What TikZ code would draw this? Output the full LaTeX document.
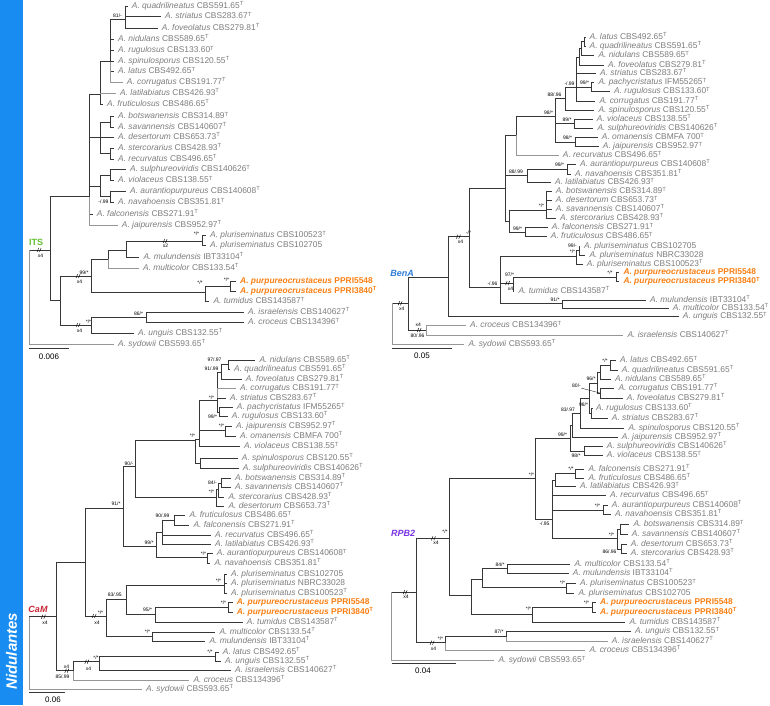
\documentclass[tikz,border=0pt]{standalone}
\usepackage{fontspec}
\setmainfont{Liberation Sans}
\definecolor{barblue}{RGB}{24,140,240}
\definecolor{brc}{RGB}{55,55,55}
\definecolor{gbc}{RGB}{150,150,150}
\definecolor{txg}{RGB}{125,125,125}
\definecolor{orng}{RGB}{250,128,20}
\definecolor{itsc}{RGB}{100,190,50}
\definecolor{benc}{RGB}{45,125,215}
\definecolor{camc}{RGB}{200,40,55}
\definecolor{rpbc}{RGB}{120,50,230}
\tikzset{
 br/.style={draw=brc, line width=0.65pt},
 gb/.style={draw=gbc, line width=0.65pt},
 lf/.style={anchor=west, inner xsep=4pt, inner ysep=0pt, text height=6pt, text depth=1.6pt, text=txg, font=\fontsize{8.4}{9}\selectfont},
 ol/.style={lf, text=orng, font=\fontsize{8.4}{9}\selectfont\bfseries},
 sv/.style={inner sep=0pt, font=\fontsize{5}{6}\selectfont, text=black},
 brk/.style={draw=black, line width=0.45pt},
 gl/.style={inner sep=0pt, font=\fontsize{9}{10}\selectfont\bfseries\itshape},
 scl/.style={inner sep=0pt, font=\fontsize{8}{9}\selectfont, text=black},
 ld/.style={draw=black, line width=0.3pt},
}
\newcommand\Nd[4][br]{\coordinate (#3) at (#4);\draw[#1] (#2) |- (#3);}
\newcommand\Lf[5][br]{\node[lf] (#3) at (#4) {#5};\draw[#1] (#2) |- (#3.west);}
\newcommand\Lo[4]{\node[ol] (#2) at (#3) {#4};\draw[br] (#1) |- (#2.west);}
\newcounter{svc}
\newcommand\Sv[2]{\stepcounter{svc}\node[sv] (sv\arabic{svc}) at (#1) {#2};}
\newcommand\Bk[1]{\draw[brk,shift={(#1)}] (-1.9,2) -- (-0.3,-2) (0.5,2) -- (2.1,-2);}
\newcommand\sT[2]{\textit{A.~#1} #2\textsuperscript{T}}
\newcommand\sN[2]{\textit{A.~#1} #2}
\newcommand\pA{\textit{A.~purpureocrustaceus} PPRI5548}
\newcommand\pB{\textit{A.~purpureocrustaceus} PPRI3840\textsuperscript{T}}
\begin{document}
\begin{tikzpicture}[x=1pt,y=-1pt]
\useasboundingbox (0,0) rectangle (770,705);
\fill[white] (0,0) rectangle (770,705);
\fill[barblue] (0,0) rectangle (23,705);
\node[rotate=90, text=white, inner sep=0pt, font=\fontsize{15}{15}\selectfont\bfseries\itshape] (nid) at (11.5,651) {Nidulantes};

% ================= ITS =================
\coordinate (I0) at (29.3,250);
\Nd{I0}{IR}{50,250}
\Lf[gb]{I0}{Isyd}{114,344.5}{\sT{sydowii}{CBS593.65}}
\Bk{39,250} \Sv{40.5,255.5}{x4}
\node[gl, font=\fontsize{9}{10}\selectfont\bfseries, text=itsc] (ITS) at (36,242) {ITS};
\Nd{IR}{In0}{89,196.7}
\Nd{IR}{Inl}{60.7,300}
\Nd{In0}{In1}{100,94}
\Nd{In0}{Im1}{100,137}
\Nd{In0}{Im2}{100,186.7}
\Lf{In0}{Ifal}{92.7,214}{\sT{falconensis}{CBS271.91}}
\Lf[gb]{In0}{Ijai}{117.7,225}{\sT{jaipurensis}{CBS952.97}}
\Nd{In1}{In2}{110.7,61.7}
\Lf[gb]{In1}{Ilab}{116,93.3}{\sT{latilabiatus}{CBS426.93}}
\Lf{In1}{Ifru}{103,104.3}{\sT{fruticulosus}{CBS486.65}}
\Nd{In2}{In3}{125,19}
\Lf{In2}{Inid}{114,39}{\sT{nidulans}{CBS589.65}}
\Lf{In2}{Irug}{114,50.7}{\sT{rugulosus}{CBS133.60}}
\Lf{In2}{Ispi}{114,61.3}{\sT{spinulosporus}{CBS120.55}}
\Lf{In2}{Ilat}{114,71.7}{\sT{latus}{CBS492.65}}
\Lf[gb]{In2}{Icor}{122.7,82.3}{\sT{corrugatus}{CBS191.77}}
\Lf{In3}{Iqua}{127.7,6}{\sT{quadrilineatus}{CBS591.65}}
\Lf{In3}{Istr}{161,16.7}{\sT{striatus}{CBS283.67}}
\Lf{In3}{Ifov}{157.7,28.5}{\sT{foveolatus}{CBS279.81}}
\Sv{117.5,15.5}{81/-}
\Nd{Im1}{Im1a}{110.7,122}
\Lf{Im1}{Ides}{114,137.5}{\sT{desertorum}{CBS653.73}}
\Nd{Im1}{Im1b}{110.7,153.5}
\Lf{Im1a}{Ibot}{114,116.7}{\sT{botswanensis}{CBS314.89}}
\Lf{Im1a}{Isav}{114,127.3}{\sT{savannensis}{CBS140607}}
\Lf{Im1b}{Iste}{114,148.3}{\sT{stercorarius}{CBS428.93}}
\Lf{Im1b}{Irec}{114,159}{\sT{recurvatus}{CBS496.65}}
\Nd{Im2}{Im2a}{110.7,175}
\Nd{Im2}{Im2b}{110.7,196.8}
\Lf{Im2a}{Isul}{126,169.7}{\sT{sulphureoviridis}{CBS140626}}
\Lf{Im2a}{Ivio}{114,180.7}{\sT{violaceus}{CBS138.55}}
\Lf{Im2b}{Iaur}{126,191}{\sT{aurantiopurpureus}{CBS140608}}
\Lf{Im2b}{Inav}{114,202.7}{\sT{navahoensis}{CBS351.81}}
\Sv{103.5,201.5}{-/.99}
\Nd{Inl}{IA}{91.7,276}
\Nd{Inl}{ID}{91.7,325}
\Sv{84,272.5}{99/*} \Bk{78,276} \Sv{79.5,281.5}{x4}
\Sv{88.5,321.5}{*/*} \Bk{78,325} \Sv{79.5,330.5}{x4}
\Nd{IA}{IB}{108.3,259}
\Nd{IA}{IE}{205,292.7}
\Nd{IB}{IC}{126,250}
\Lf[gb]{IB}{Imuc}{139,268}{\sT{multicolor}{CBS133.54}}
\Nd{IC}{IP}{202.7,241}
\Lf{IC}{Imul}{139.3,257}{\sT{mulundensis}{IBT33104}}
\Lf{IP}{Ipl1}{206,235.7}{\sT{pluriseminatus}{CBS100523}}
\Lf{IP}{Ipl2}{206,245.3}{\sN{pluriseminatus}{CBS102705}}
\Sv{196.5,233.5}{*/*} \Bk{165,241} \Sv{165.5,246}{x2}
\Nd{IE}{IQ}{230,286}
\Lf{IE}{Itum}{209.3,301.7}{\sT{tumidus}{CBS143587}}
\Sv{200,283}{*/*}
\Lo{IQ}{Ipu1}{236,281}{\pA}
\Lo{IQ}{Ipu2}{236,291.3}{\pB}
\Sv{226.5,279.5}{*/*}
\Nd{ID}{IG}{146,317.7}
\Lf{ID}{Iung}{134,333}{\sT{unguis}{CBS132.55}}
\Lf{IG}{Iisr}{244,312.3}{\sT{israelensis}{CBS140627}}
\Lf{IG}{Icro}{244,322.7}{\sT{croceus}{CBS134396}}
\Sv{138.5,314}{86/*}
\coordinate (Is1) at (29.3,348.5); \coordinate (Is2) at (69.3,348.5);
\draw[br] (Is1) -- (Is2);
\node[scl] (Isl) at (49,356.5) {0.006};

% ================= BenA =================
\coordinate (B0) at (392.7,303.3);
\Nd{B0}{BR}{408.3,303.3}
\Lf[gb]{B0}{Bsyd}{464.3,344.3}{\sT{sydowii}{CBS593.65}}
\Bk{400,303.3} \Sv{401.7,308.8}{x4}
\node[gl, text=benc] (BenA) at (402,273) {BenA};
\Nd{BR}{Bd0}{448.3,277.3}
\Nd{BR}{Bk1}{426.7,330}
\Lf[gb]{Bk1}{Bcro}{466,325.7}{\sT{croceus}{CBS134396}}
\Lf[gb]{Bk1}{Bisr}{623.3,335}{\sT{israelensis}{CBS140627}}
\Sv{418.3,325}{x4} \Bk{419,330} \Sv{417.5,335.5}{80/.96}
\Nd{Bd0}{Bd1}{469,236.7}
\Lf{Bd0}{Bung}{678.7,316.7}{\sT{unguis}{CBS132.55}}
\Bk{458.3,236.7} \Sv{460.5,241.7}{x4} \Sv{468.5,232.5}{-/*}
\Nd{Bd1}{Bb11}{505,188.3}
\Nd{Bd1}{Bg1}{500.7,287}
\Nd{Bb11}{Bb10}{516.7,135}
\Nd{Bb11}{Bb12}{527.3,175}
\Nd{Bb11}{Bc3}{509.3,221.7}
\Nd{Bb10}{Bb7}{555.7,116}
\Lf[gb]{Bb10}{Brec}{558.7,155.7}{\sT{recurvatus}{CBS496.65}}
\Sv{548.5,112.5}{98/*}
\Nd{Bb7}{Bb6}{565,98}
\Nd{Bb7}{Bb8}{574,123.3}
\Nd{Bb7}{Bb9}{575,142}
\Sv{554.5,94.5}{88/.96}
\Nd{Bb6}{Bb5}{576.7,87.3}
\Lf{Bb6}{Bspi}{594.3,110}{\sT{spinulosporus}{CBS120.55}}
\Sv{569.5,84}{-/.99}
\Nd{Bb5}{Bb3}{579.3,57}
\Lf{Bb5}{Bstr}{596,73.3}{\sT{striatus}{CBS283.67}}
\Nd{Bb5}{Bb4}{591.7,87.3}
\Lf{Bb5}{Bcor}{595.3,101}{\sT{corrugatus}{CBS191.77}}
\Nd{Bb3}{Bb2}{581.5,48.6}
\Lf{Bb3}{Bfov}{604,65}{\sT{foveolatus}{CBS279.81}}
\Nd{Bb2}{Bb1}{584,41.5}
\Lf{Bb2}{Bnid}{594.3,55.7}{\sT{nidulans}{CBS589.65}}
\Lf{Bb1}{Blat}{585.5,37}{\sT{latus}{CBS492.65}}
\Lf{Bb1}{Bqua}{585.5,46}{\sT{quadrilineatus}{CBS591.65}}
\Lf{Bb4}{Bpac}{594.3,82.7}{\sT{pachycristatus}{IFM55265}}
\Lf{Bb4}{Brug}{610,91.7}{\sT{rugulosus}{CBS133.60}}
\Sv{584.5,83}{99/*}
\Lf{Bb8}{Bvio}{592.7,119.3}{\sT{violaceus}{CBS138.55}}
\Lf{Bb8}{Bsul}{593.3,128.3}{\sT{sulphureoviridis}{CBS140626}}
\Sv{567,119.5}{89/*}
\Lf{Bb9}{Boma}{597.7,137.7}{\sT{omanensis}{CBMFA 700}}
\Lf{Bb9}{Bjai}{598.7,146.7}{\sT{jaipurensis}{CBS952.97}}
\Sv{567.5,138}{98/*}
\Nd{Bb12}{Bau}{567.3,169.3}
\Lf{Bb12}{Blab}{551,182.7}{\sT{latilabiatus}{CBS426.93}}
\Sv{516,171.5}{88/.99}
\Lf{Bau}{Baur}{576,164}{\sT{aurantiopurpureus}{CBS140608}}
\Lf{Bau}{Bnav}{571,174}{\sT{navahoensis}{CBS351.81}}
\Sv{559.5,164.5}{99/*}
\Nd{Bc3}{Bc1}{546.7,210}
\Nd{Bc3}{Bc2}{525,232}
\Lf{Bc1}{Bbot}{551.7,191.7}{\sT{botswanensis}{CBS314.89}}
\Lf{Bc1}{Bdes}{551.7,200.7}{\sT{desertorum}{CBS653.73}}
\Lf{Bc1}{Bsav}{551.7,209.3}{\sT{savannensis}{CBS140607}}
\Lf{Bc1}{Bste}{556,218.3}{\sT{stercorarius}{CBS428.93}}
\Sv{541.5,205.5}{*/*}
\Lf{Bc2}{Bfal}{547.7,227.7}{\sT{falconensis}{CBS271.91}}
\Lf{Bc2}{Bfru}{546.7,236.7}{\sT{fruticulosus}{CBS486.65}}
\Sv{517.5,228.5}{99/*}
\Nd{Bg1}{Be1}{576.5,256.7}
\Nd{Bg1}{Bf1}{513,283}
\Nd{Bg1}{Bh1}{562.7,303.3}
\Sv{492.5,283.5}{-/.96}
\Nd{Be1}{Be2}{579,250.5}
\Lf{Be1}{Bpl3}{582.7,264.3}{\sT{pluriseminatus}{CBS100523}}
\Lf{Be2}{Bpl1}{580,246}{\sN{pluriseminatus}{CBS102705}}
\Lf{Be2}{Bpl2}{585.3,255}{\sN{pluriseminatus}{NBRC33028}}
\Sv{572.5,245.5}{99/-}
\Sv{572.5,252}{*/*}
\Nd{Bf1}{Bpp}{616,277.3}
\Lf{Bf1}{Btum}{514.3,291}{\sT{tumidus}{CBS143587}}
\Sv{509.5,274.5}{97/*} \Bk{507.5,283} \Sv{510.5,288.5}{x4}
\Lo{Bpp}{Bpu1}{619.3,272.7}{\pA}
\Lo{Bpp}{Bpu2}{619.3,281.7}{\pB}
\Sv{610,272.5}{*/*}
\Lf{Bh1}{Bmul}{646,300}{\sT{mulundensis}{IBT33104}}
\Lf{Bh1}{Bmuc}{668.7,308.3}{\sT{multicolor}{CBS133.54}}
\Sv{555,300}{91/*}
\coordinate (Bs1) at (391.7,348); \coordinate (Bs2) at (451.7,348);
\draw[br] (Bs1) -- (Bs2);
\node[scl] (Bsl) at (422,356) {0.05};

% ================= CaM =================
\coordinate (C0) at (29.3,616.7);
\Nd{C0}{CR}{56,616.7}
\Lf[gb]{C0}{Csyd}{142,689.3}{\sT{sydowii}{CBS593.65}}
\Bk{43.3,616.7} \Sv{45,622.7}{x4}
\node[gl, text=camc] (CaM) at (38,609.5) {CaM};
\Nd{CR}{Ct2}{85,562.3}
\Nd{CR}{Cz0}{73.3,670.7}
\Nd{Ct2}{Ct1}{123.3,508.3}
\Nd{Ct2}{Cx4}{106,616}
\Sv{100.5,612.8}{*/*} \Bk{94,616} \Sv{97,622.8}{x4}
\Nd{Ct1}{Ct0}{135,466.7}
\Nd{Ct1}{Cv0}{156,546.7}
\Sv{116,504}{91/*}
\Nd{Ct0}{Cs1}{195.7,440.7}
\Nd{Ct0}{Cu3}{216.7,497.3}
\Sv{129,463.3}{90/-}
\Nd{Cs1}{Cr0}{199.3,439}
\Nd{Cs1}{Cr2}{200,463}
\Sv{192.5,436}{*/*}
\Nd{Cr0}{Cq3}{217.3,400}
\Nd{Cr0}{Cr1}{225,430.7}
\Lf{Cr0}{Cvio}{240,446.7}{\sT{violaceus}{CBS138.55}}
\Nd{Cq3}{Cq2}{221,372}
\Lf[gb]{Cq3}{Ccor}{236,388.7}{\sT{corrugatus}{CBS191.77}}
\Lf{Cq3}{Cstr}{226,398.3}{\sT{striatus}{CBS283.67}}
\Nd{Cq3}{Cq4}{219.3,412}
\Sv{211.5,397.3}{*/*}
\Nd{Cq2}{Cq1}{228.3,364.7}
\Lf{Cq2}{Cfov}{241.7,379.3}{\sT{foveolatus}{CBS279.81}}
\Sv{211.5,368.3}{91/.99}
\Lf{Cq1}{Cnid}{255.3,360}{\sT{nidulans}{CBS589.65}}
\Lf{Cq1}{Cqua}{230,369.3}{\sT{quadrilineatus}{CBS591.65}}
\Sv{214.5,360}{97/.97}
\Lf{Cq4}{Cpac}{232.7,407.7}{\sT{pachycristatus}{IFM55265}}
\Lf{Cq4}{Crug}{227.7,416}{\sT{rugulosus}{CBS133.60}}
\Sv{212.5,416.5}{99/*}
\Lf{Cr1}{Cjai}{232,426}{\sT{jaipurensis}{CBS952.97}}
\Lf{Cr1}{Coma}{236,436}{\sT{omanensis}{CBMFA 700}}
\Sv{221.5,426}{*/*}
\Lf{Cr2}{Cspi}{237.7,458}{\sT{spinulosporus}{CBS120.55}}
\Lf{Cr2}{Csul}{238.7,468.3}{\sT{sulphureoviridis}{CBS140626}}
\Nd{Cu3}{Cu2}{218.3,489}
\Lf{Cu3}{Cdes}{224.3,506}{\sT{desertorum}{CBS653.73}}
\Sv{211.5,492}{*/*}
\Nd{Cu2}{Cu1}{221.7,483}
\Lf{Cu2}{Cste}{224.3,497}{\sT{stercorarius}{CBS428.93}}
\Sv{212.5,482.5}{84/-}
\Lf{Cu1}{Cbot}{231,478}{\sT{botswanensis}{CBS314.89}}
\Lf{Cu1}{Csav}{231,487.5}{\sT{savannensis}{CBS140607}}
\Nd{Cv0}{Cv2}{162.7,532}
\Nd{Cv0}{Cv3}{207.3,557.7}
\Sv{149,542.5}{99/*}
\Nd{Cv2}{Cv1}{174,520}
\Lf{Cv2}{Crec}{211,535}{\sT{recurvatus}{CBS496.65}}
\Lf{Cv2}{Clab}{211,544.3}{\sT{latilabiatus}{CBS426.93}}
\Lf{Cv1}{Cfru}{185.3,515.7}{\sT{fruticulosus}{CBS486.65}}
\Lf{Cv1}{Cfal}{189.3,525.3}{\sT{falconensis}{CBS271.91}}
\Sv{162.5,515.7}{90/.99}
\Lf{Cv3}{Caur}{212.7,553.7}{\sT{aurantiopurpureus}{CBS140608}}
\Lf{Cv3}{Cnav}{210.3,563.3}{\sT{navahoensis}{CBS351.81}}
\Sv{203.5,553.7}{*/*}
\Nd{Cx4}{Cx3}{126,599}
\Nd{Cx4}{Cy1}{152.7,636}
\Nd{Cx3}{Cw1}{224,585}
\Nd{Cx3}{Cx2}{155,614}
\Sv{114.7,595}{83/.95}
\Lf{Cw1}{Cpl1}{227,574}{\sN{pluriseminatus}{CBS102705}}
\Lf{Cw1}{Cpl2}{227,583.7}{\sN{pluriseminatus}{NBRC33028}}
\Lf{Cw1}{Cpl3}{227,593}{\sT{pluriseminatus}{CBS100523}}
\Sv{218.5,581}{*/*}
\Nd{Cx2}{Cx1}{228.3,607.3}
\Lf{Cx2}{Ctum}{242.7,622}{\sT{tumidus}{CBS143587}}
\Sv{147.5,609.3}{95/*}
\Lo{Cx1}{Cpu1}{232.7,602.7}{\pA}
\Lo{Cx1}{Cpu2}{232.7,612}{\pB}
\Sv{223.5,602.7}{*/*}
\Lf{Cy1}{Cmuc}{215.3,632}{\sT{multicolor}{CBS133.54}}
\Lf{Cy1}{Cmul}{205.3,641.3}{\sT{mulundensis}{IBT33104}}
\Sv{147.5,631.7}{*/*}
\Nd{Cz0}{Cz1}{99.3,661.7}
\Lf[gb]{Cz0}{Ccro}{189.3,680}{\sT{croceus}{CBS134396}}
\Sv{66.5,666.3}{x4} \Bk{66.7,670.7} \Sv{62.5,676.7}{85/.99}
\Nd{Cz1}{Cz2}{215,656}
\Lf{Cz1}{Cisr}{231,670}{\sT{israelensis}{CBS140627}}
\Sv{96,657.5}{*/*} \Bk{86.7,661.7} \Sv{88.5,669}{x4}
\Lf{Cz2}{Clat}{218.7,652.3}{\sT{latus}{CBS492.65}}
\Lf{Cz2}{Cung}{221,661.3}{\sT{unguis}{CBS132.55}}
\Sv{210,651.7}{*/*}
\coordinate (Cs1) at (29.3,692.7); \coordinate (Cs2) at (65,692.7);
\draw[br] (Cs1) -- (Cs2);
\node[scl] (Csl) at (53,700) {0.06};

% ================= RPB2 =================
\coordinate (P0) at (391.7,592.3);
\Nd{P0}{PR}{416.7,592.3}
\Lf[gb]{P0}{Psyd}{494.3,660.7}{\sT{sydowii}{CBS593.65}}
\Bk{405,592.3} \Sv{406,597}{x4}
\node[gl, text=rpbc] (RPB2) at (403,533.3) {RPB2};
\Nd{PR}{PQ0}{449.3,538.3}
\Nd{PR}{PK}{445,642.7}
\Sv{445,531.5}{*/*} \Bk{433.3,538.3} \Sv{436,543}{x4}
\Nd{PQ0}{PR1}{535.7,478.3}
\Nd{PQ0}{PQ1}{471.7,595}
\Sv{531.5,475}{*/*}
\Nd{PR1}{Pp9}{570,438.3}
\Nd{PR1}{PR2}{552.3,519}
\Sv{562.5,435}{99/*}
\Sv{544.5,523.5}{-/.95}
\Nd{Pp9}{Pp8}{572.7,425}
\Nd{Pp9}{Pp10}{584,451.7}
\Nd{Pp8}{Pp7}{580,413}
\Lf{Pp8}{Pjai}{617.7,437}{\sT{jaipurensis}{CBS952.97}}
\Nd{Pp7}{Pp5}{589,398}
\Lf{Pp7}{Pspi}{624.3,428}{\sT{spinulosporus}{CBS120.55}}
\Sv{568,409.5}{83/.97}
\Nd{Pp5}{Pp3}{597,383}
\Nd{Pp5}{Pp6}{591.5,413}
\Sv{583.5,404.5}{98/*}
\Nd{Pp3}{Pp2}{600,372}
\Nd{Pp3}{Pp4}{600,393}
\Sv{591,378.5}{96/*}
\node[sv] (P80) at (576.5,386) {80/-};
\draw[ld] (P80.south east) -- (Pp4);
\Nd{Pp2}{Pp1}{610.7,365}
\Lf{Pp2}{Pnid}{611,379.3}{\sT{nidulans}{CBS589.65}}
\Lf{Pp1}{Plat}{616,360.7}{\sT{latus}{CBS492.65}}
\Lf{Pp1}{Pqua}{617.7,370}{\sT{quadrilineatus}{CBS591.65}}
\Sv{605,360.7}{*/*}
\Lf{Pp4}{Pcor}{614.3,388.3}{\sT{corrugatus}{CBS191.77}}
\Lf{Pp4}{Pfov}{622.7,398.3}{\sT{foveolatus}{CBS279.81}}
\Lf{Pp6}{Prug}{592,408.3}{\sT{rugulosus}{CBS133.60}}
\Lf{Pp6}{Pstr}{607.7,418}{\sT{striatus}{CBS283.67}}
\Lf{Pp10}{Psul}{602.7,446.3}{\sT{sulphureoviridis}{CBS140626}}
\Lf{Pp10}{Pvio}{602.7,455.7}{\sT{violaceus}{CBS138.55}}
\Sv{576,455.5}{98/*}
\Nd{PR2}{Prr2}{555.7,480}
\Lf{PR2}{Prec}{606,495.7}{\sT{recurvatus}{CBS496.65}}
\Nd{PR2}{Prr4}{603.3,510}
\Nd{PR2}{Pbs0}{617,538.3}
\Nd{Prr2}{Prr1}{575,473.3}
\Lf{Prr2}{Plab}{576,486.7}{\sT{latilabiatus}{CBS426.93}}
\Lf{Prr1}{Pfal}{584.3,469.3}{\sT{falconensis}{CBS271.91}}
\Lf{Prr1}{Pfru}{584.3,478.3}{\sT{fruticulosus}{CBS486.65}}
\Sv{571,468.3}{*/*}
\Lf{Prr4}{Paur}{607.7,505.5}{\sT{aurantiopurpureus}{CBS140608}}
\Lf{Prr4}{Pnav}{611,514}{\sT{navahoensis}{CBS351.81}}
\Sv{597.5,506}{*/*}
\Nd{Pbs0}{Pbs1}{620,529.5}
\Nd{Pbs0}{Pbs2}{621,549}
\Sv{611.5,535}{*/*}
\Sv{609.5,551.7}{86/.96}
\Lf{Pbs1}{Pbot}{629.3,524.7}{\sT{botswanensis}{CBS314.89}}
\Lf{Pbs1}{Psav}{627.7,534.3}{\sT{savannensis}{CBS140607}}
\Lf{Pbs2}{Pdes}{626.7,544.3}{\sT{desertorum}{CBS653.73}}
\Lf{Pbs2}{Pste}{626.7,553.3}{\sT{stercorarius}{CBS428.93}}
\Nd{PQ1}{PQ2}{482.7,579}
\Nd{PQ1}{PQ3}{532.7,614}
\Nd{PQ2}{Ph}{507.3,568.3}
\Nd{PQ2}{Ppl}{566,587.7}
\Lf{Ph}{Pmuc}{570.3,564.3}{\sT{multicolor}{CBS133.54}}
\Lf{Ph}{Pmul}{568.7,573.3}{\sT{mulundensis}{IBT33104}}
\Sv{500,564.3}{84/*}
\Lf{Ppl}{Ppl1}{576,583.7}{\sT{pluriseminatus}{CBS100523}}
\Lf{Ppl}{Ppl2}{574.3,593}{\sN{pluriseminatus}{CBS102705}}
\Sv{562.5,583}{*/*}
\Nd{PQ3}{Ppp}{592.7,607.3}
\Lf{PQ3}{Ptum}{625.3,622}{\sT{tumidus}{CBS143587}}
\Sv{528.5,608.3}{*/*}
\Lo{Ppp}{Ppu1}{596,602.7}{\pA}
\Lo{Ppp}{Ppu2}{596,612}{\pB}
\Sv{586.5,602.7}{*/*}
\Nd{PK}{Pui}{506,636.7}
\Lf[gb]{PK}{Pcro}{585.3,650.3}{\sT{croceus}{CBS134396}}
\Sv{440.5,639}{*/*} \Bk{432,642.7} \Sv{433.5,648.5}{x4}
\Lf{Pui}{Pung}{631,631.7}{\sT{unguis}{CBS132.55}}
\Lf[gb]{Pui}{Pisr}{607.7,641.3}{\sT{israelensis}{CBS140627}}
\Sv{499,631.7}{87/*}
\coordinate (Ps1) at (391.7,663.5); \coordinate (Ps2) at (456,663.5);
\draw[br] (Ps1) -- (Ps2);
\node[scl] (Psl) at (423,671) {0.04};
\end{tikzpicture}
\end{document}
